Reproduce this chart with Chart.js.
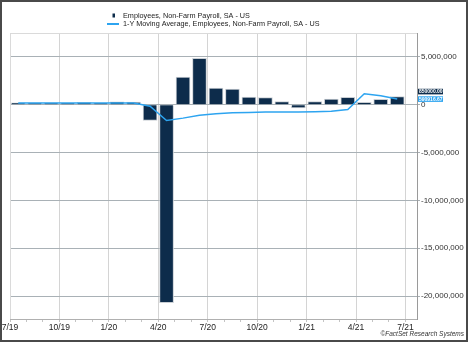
<!DOCTYPE html>
<html>
<head>
<meta charset="utf-8">
<script src="https://cdn.jsdelivr.net/npm/chart.js@4.4.1/dist/chart.umd.min.js"></script>
<style>
  html, body { margin: 0; padding: 0; background: #fff; }
  canvas { display: block; }
</style>
</head>
<body>
<canvas id="chart-canvas" width="468" height="342"></canvas>
<script>
// monthly change in non-farm payrolls, Jul 2019 .. Jun 2021
const monthIndex = [0, 1, 2, 3, 4, 5, 6, 7, 8, 9, 10, 11, 12, 13, 14, 15, 16, 17, 18, 19, 20, 21, 22, 23];
const payrollChange = [200000, 210000, 190000, 180000, 260000, 180000, 310000, 270000, -1650000, -20700000,
  2900000, 4850000, 1750000, 1650000, 800000, 750000, 320000, -320000, 330000, 600000, 780000, 260000, 560000, 850000];
const movingAvg = [180000, 175000, 175000, 170000, 175000, 175000, 185000, 185000, -150000, -1650000,
  -1400000, -1100000, -950000, -850000, -800000, -770000, -750000, -750000, -720000, -680000, -500000, 1150000, 950000, 590916.67];
const tickLabels = ['7/19', '10/19', '1/20', '4/20', '7/20', '10/20', '1/21', '4/21', '7/21'];
const yTicks = [5000000, 0, -5000000, -10000000, -15000000, -20000000];

const seriesNames = ['Employees, Non-Farm Payroll, SA - US', '1-Y Moving Average, Employees, Non-Farm Payroll, SA - US'];
const barColor = '#0d2c4b';
const lineColor = '#2da4f0';
const FONT = '"Liberation Sans", Arial, sans-serif';

// pozisi bar di tengah bulan
const barPoints = monthIndex.map((m, i) => ({ x: m + 0.5, y: payrollChange[i] }));
const avgPoints = monthIndex.map((m, i) => ({ x: m + 0.5, y: movingAvg[i] }));

const extras = {
  id: 'extras',
  beforeDraw(chart) {
    const ctx = chart.ctx;
    ctx.save();
    ctx.fillStyle = '#fff';
    ctx.fillRect(0, 0, chart.width, chart.height);
    ctx.restore();
  },
  beforeDatasetsDraw(chart) {
    const { ctx, chartArea: a } = chart;
    ctx.save();
    ctx.strokeStyle = '#dadada';
    ctx.lineWidth = 1;
    ctx.beginPath();
    ctx.moveTo(a.left + 0.5, a.bottom);
    ctx.lineTo(a.left + 0.5, a.top + 0.5);
    ctx.lineTo(a.right, a.top + 0.5);
    ctx.stroke();
    ctx.restore();
  },
  afterDraw(chart) {
    const ctx = chart.ctx;
    const y = chart.scales.y;
    const a = chart.chartArea;
    ctx.save();

    // legend
    ctx.font = '7.25px ' + FONT;
    ctx.textBaseline = 'middle';
    ctx.fillStyle = barColor;
    ctx.fillRect(112.5, 13.5, 2.5, 4);
    ctx.strokeStyle = lineColor;
    ctx.lineWidth = 2;
    ctx.beginPath();
    ctx.moveTo(107, 24);
    ctx.lineTo(119, 24);
    ctx.stroke();
    ctx.fillStyle = '#222';
    ctx.fillText(seriesNames[0], 123, 15.5);
    ctx.fillText(seriesNames[1], 123, 24);

    // last value boxes on the right axis
    const lastBar = payrollChange[payrollChange.length - 1];
    const lastAvg = movingAvg[movingAvg.length - 1];
    const blueY = y.getPixelForValue(lastAvg);
    const darkY = Math.min(y.getPixelForValue(lastBar), blueY - 7.5);
    ctx.font = 'bold 5px ' + FONT;
    ctx.textAlign = 'left';
    [[darkY, barColor, lastBar], [blueY, lineColor, lastAvg]].forEach(([py, col, v]) => {
      ctx.fillStyle = col;
      ctx.fillRect(a.right + 1, py - 2.8, 25, 5.6);
      ctx.fillStyle = '#fff';
      ctx.fillText(v.toFixed(2), a.right + 2, py + 0.2);
    });

    // footer
    ctx.font = 'italic 6.5px ' + FONT;
    ctx.textAlign = 'right';
    ctx.fillStyle = '#333';
    ctx.fillText('\u00A9FactSet Research Systems', 464, 334.5);

    // frame
    ctx.strokeStyle = '#4a4a4a';
    ctx.lineWidth = 2;
    ctx.strokeRect(1, 1, chart.width - 2, chart.height - 2);
    ctx.restore();
  }
};

new Chart(document.getElementById('chart-canvas'), {
  data: {
    datasets: [
      {
        type: 'line',
        label: seriesNames[1],
        data: avgPoints,
        borderColor: lineColor,
        borderWidth: 1.5,
        pointRadius: 0,
        tension: 0,
        order: 0
      },
      {
        type: 'bar',
        label: seriesNames[0],
        data: barPoints,
        backgroundColor: barColor,
        borderColor: '#c9ced3',
        borderWidth: 1,
        barThickness: 14,
        order: 1
      }
    ]
  },
  options: {
    responsive: false,
    animation: false,
    devicePixelRatio: 1,
    layout: { padding: { left: 10, top: 33, right: 0, bottom: 0 } },
    plugins: { legend: { display: false }, tooltip: { enabled: false } },
    scales: {
      x: {
        type: 'linear',
        offset: false,
        min: 0,
        max: 24.7,
        afterBuildTicks: s => { s.ticks = monthIndex.concat([24]).map(v => ({ value: v })); },
        afterFit: s => { s.height = 23; s.paddingLeft = 0; s.paddingRight = 0; },
        ticks: {
          autoSkip: false,
          maxRotation: 0,
          padding: 1,
          color: '#222',
          font: { size: 8.5, family: FONT },
          callback: v => (v % 3 === 0 ? tickLabels[v / 3] : '')
        },
        grid: {
          offset: false,
          color: c => (c.tick && c.tick.value % 3 === 0 ? '#d4d4d4' : 'rgba(0,0,0,0)'),
          tickColor: '#c4c4c4',
          tickLength: 3
        },
        border: { color: '#b0b0b0' }
      },
      y: {
        position: 'right',
        min: -22400000,
        max: 7500000,
        afterBuildTicks: s => { s.ticks = yTicks.map(v => ({ value: v })); },
        afterFit: s => { s.width = 51; s.paddingTop = 0; s.paddingBottom = 0; },
        ticks: {
          padding: 1,
          color: '#333',
          font: { size: 8, family: FONT },
          callback: v => v.toLocaleString('en-US')
        },
        grid: { color: '#a9b1b6', tickLength: 3 },
        border: { color: '#9a9a9a' }
      }
    }
  },
  plugins: [extras]
});
</script>
</body>
</html>
